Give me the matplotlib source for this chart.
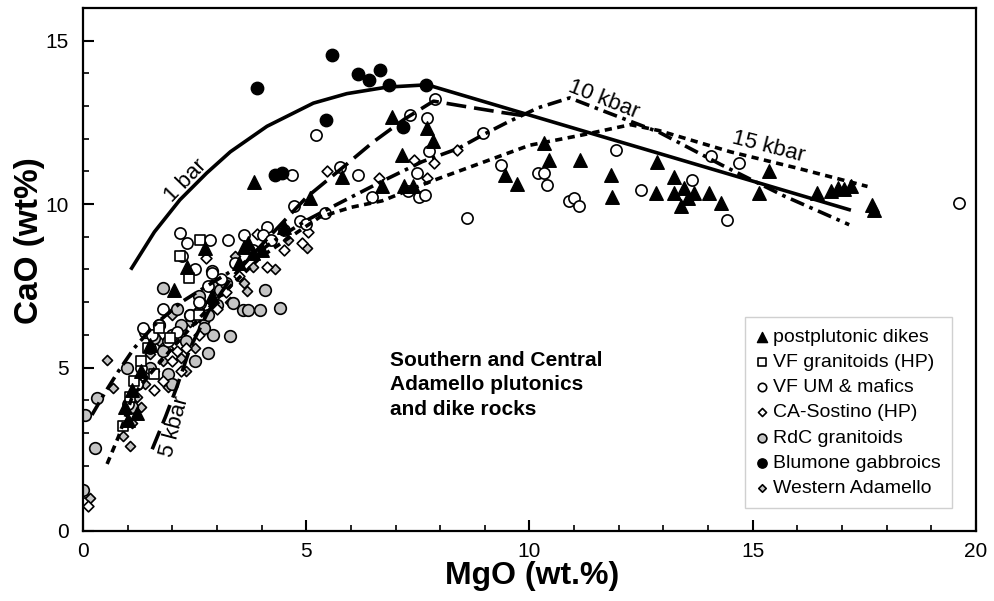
import matplotlib
matplotlib.use('Agg')
import matplotlib.pyplot as plt
from matplotlib.ticker import MultipleLocator

plt.rcParams['font.family'] = ['Liberation Sans', 'DejaVu Sans']

# model curves (MgO, CaO)
bar1_x = [1.09, 1.6, 2.17, 2.77, 3.3, 4.12, 5.16, 5.91, 6.81, 7.71, 17.16]
bar1_y = [8.04, 9.15, 10.13, 10.95, 11.6, 12.38, 13.09, 13.38, 13.58, 13.65, 9.83]
kb5_x = [1.55, 1.85, 2.1, 2.4, 2.8, 3.3, 4.1, 5.0, 5.8, 6.5, 7.2, 7.85, 8.5, 9.4, 9.9]
kb5_y = [2.5, 3.5, 4.4, 5.6, 6.7, 7.7, 8.9, 10.2, 11.1, 11.9, 12.6, 13.15, 13.0, 12.8, 12.7]
kb10_x = [0.2, 0.5, 0.8, 1.15, 1.6, 2.2, 2.9, 3.5, 4.3, 5.0, 5.7, 6.7, 7.6, 8.4, 9.0,
          9.5, 10.2, 10.9, 11.75, 12.9, 14.3, 15.7, 17.16]
kb10_y = [3.55, 4.25, 4.9, 5.6, 6.3, 7.0, 7.6, 8.1, 8.9, 9.5, 10.0, 10.7, 11.3, 11.7, 12.15,
          12.5, 12.95, 13.25, 12.8, 12.2, 11.2, 10.25, 9.37]
kb15_x = [0.54, 0.8, 1.1, 1.5, 2.0, 3.0, 4.0, 5.3, 6.0, 6.7, 7.8, 9.1, 10.0, 11.2, 12.26,
          12.9, 14.5, 16.0, 17.57]
kb15_y = [2.05, 2.9, 4.1, 4.8, 5.6, 7.1, 8.4, 9.6, 9.9, 10.1, 10.7, 11.35, 11.8, 12.12, 12.43,
          12.25, 11.6, 11.1, 10.54]

# samples
dikes_x = [6.92, 7.71, 7.85, 7.14, 3.82, 5.8, 5.09, 6.7, 7.18, 7.4, 9.46, 9.72,
           10.32, 10.43, 11.14, 11.82, 11.85, 12.86, 12.83, 13.24, 13.24, 13.39, 13.68, 14.02,
           14.28, 15.37, 15.14, 16.45, 16.75, 16.9, 17.05, 17.2, 17.68, 17.71, 13.45, 13.55,
           2.74, 2.33, 2.04, 3.8, 3.7, 4.0, 3.5, 4.5, 1.3, 1.1, 1.5, 0.95, 1.0, 2.9, 1.2, 3.6]
dikes_y = [12.68, 12.33, 11.92, 11.51, 10.69, 10.84, 10.19, 10.54, 10.54, 10.54, 10.9, 10.61,
           11.87, 11.36, 11.36, 10.9, 10.23, 11.3, 10.33, 10.84, 10.33, 9.93, 10.33, 10.33,
           10.03, 11.0, 10.33, 10.33, 10.4, 10.5, 10.45, 10.55, 9.98, 9.83, 10.5, 10.2,
           8.66, 8.09, 7.38, 8.5, 8.8, 8.6, 8.2, 9.3, 4.9, 4.3, 5.7, 3.8, 3.4, 7.2, 3.6, 8.7]

vfg_x = [2.17, 2.38, 2.62, 1.45, 1.7, 1.95, 1.15, 1.05, 1.6, 0.9, 2.6, 1.3]
vfg_y = [8.4, 7.73, 8.91, 5.6, 6.2, 5.9, 4.6, 4.1, 4.8, 3.2, 6.6, 5.2]

vfum_x = [7.89, 7.33, 7.71, 7.74, 5.22, 4.68, 6.17, 5.76, 8.97, 9.37, 10.2, 8.6, 7.48, 7.29,
          7.52, 7.67, 6.47, 5.43, 4.72, 2.17, 2.32, 2.85, 2.21, 3.6, 4.12, 4.04, 4.87,
          11.93, 10.32, 10.4, 10.88, 10.99, 11.1, 12.49, 13.65, 14.06, 14.69, 14.43, 19.63,
          1.3, 1.5, 1.7, 1.2, 1.0, 2.1, 2.4, 2.8, 3.1, 3.4, 3.8, 4.2, 1.9, 2.6, 4.5, 5.0,
          1.35, 1.55, 3.25, 2.5, 2.9, 1.8]
vfum_y = [13.21, 12.73, 12.63, 11.61, 12.12, 10.88, 10.9, 11.15, 12.17, 11.2, 10.96, 9.57, 10.95,
          10.39, 10.23, 10.28, 10.23, 9.72, 9.93, 9.12, 8.8, 8.91, 8.4, 9.06, 9.31, 9.06, 9.47,
          11.66, 10.95, 10.59, 10.08, 10.18, 9.94, 10.44, 10.74, 11.48, 11.25, 9.52, 10.03,
          5.0, 5.6, 6.3, 4.5, 3.9, 6.1, 6.6, 7.5, 7.7, 8.2, 8.6, 8.9, 5.8, 7.0, 9.2, 9.4,
          6.2, 6.0, 8.9, 8.0, 7.9, 6.8]

cas_x = [0.12, 2.0, 2.3, 2.6, 2.2, 1.8, 2.5, 2.9, 3.2, 3.5, 2.75, 3.9, 4.5, 1.6, 2.1, 3.0,
         5.46, 7.86, 7.71, 8.38, 6.62, 7.41, 4.9, 5.05, 4.12]
cas_y = [0.75, 5.2, 5.6, 6.0, 4.9, 4.6, 6.5, 7.0, 7.3, 7.8, 8.35, 9.1, 8.6, 4.3, 5.5, 6.8,
         11.0, 11.25, 10.8, 11.66, 10.8, 11.36, 8.8, 9.16, 8.09]

rdc_x = [0.0, 0.04, 0.27, 0.31, 0.98, 1.8, 2.81, 2.92, 3.3, 3.37, 3.59, 3.7, 3.97, 4.08, 4.42,
         2.88, 2.88, 2.62, 3.07, 1.2, 1.5, 1.8, 2.0, 2.2, 2.4, 2.5, 2.7, 2.3, 1.9, 1.6, 1.4,
         1.7, 2.1, 2.6, 3.0, 2.8, 3.2, 2.0, 1.1]
rdc_y = [1.25, 3.55, 2.53, 4.06, 4.98, 7.43, 5.44, 6.0, 5.95, 6.97, 6.76, 6.76, 6.76, 7.38, 6.82,
         7.94, 7.48, 6.97, 7.38, 4.5, 5.0, 5.5, 6.0, 6.3, 6.6, 5.2, 6.2, 5.8, 4.8, 5.9, 6.1,
         6.3, 6.8, 7.2, 6.9, 6.6, 7.6, 4.5, 3.8]

blum_x = [5.58, 3.89, 6.17, 6.40, 6.66, 6.86, 7.69, 5.45, 4.3, 4.46, 7.17]
blum_y = [14.57, 13.55, 13.99, 13.80, 14.09, 13.65, 13.65, 12.56, 10.88, 10.95, 12.37]

wad_x = [0.16, 0.53, 0.68, 1.4, 1.6, 1.8, 1.5, 1.9, 2.1, 2.2, 2.4, 2.0, 1.7, 2.3, 2.6, 1.2,
         1.3, 2.5, 2.7, 3.0, 3.3, 3.6, 3.81, 5.02, 3.67, 4.3, 2.9, 2.2, 1.9, 1.1, 0.9, 4.6,
         3.4, 1.05]
wad_y = [1.0, 5.23, 4.37, 4.5, 4.9, 5.2, 5.4, 5.6, 5.9, 6.2, 6.4, 6.6, 5.8, 4.9, 6.8, 4.1,
         3.8, 5.6, 6.4, 7.4, 7.0, 7.6, 8.09, 8.65, 7.33, 8.0, 6.0, 5.3, 4.4, 3.3, 2.9, 8.9,
         8.4, 2.6]

gray = '#c4c4c4'

fig = plt.figure(figsize=(9.95, 6.01), dpi=100)
ax = fig.add_axes([0.0834, 0.1165, 0.8975, 0.8702])

ax.scatter(wad_x, wad_y, marker='D', s=26, facecolor=gray, edgecolor='black', linewidth=1.2,
           label='Western Adamello', zorder=2)
ax.scatter(rdc_x, rdc_y, marker='o', s=70, facecolor=gray, edgecolor='black', linewidth=1.2,
           label='RdC granitoids', zorder=2)
ax.scatter(cas_x, cas_y, marker='D', s=30, facecolor='white', edgecolor='black', linewidth=1.2,
           label='CA-Sostino (HP)', zorder=2)
ax.scatter(vfum_x, vfum_y, marker='o', s=65, facecolor='white', edgecolor='black', linewidth=1.2,
           label='VF UM & mafics', zorder=2)
ax.scatter(vfg_x, vfg_y, marker='s', s=50, facecolor='white', edgecolor='black', linewidth=1.2,
           label='VF granitoids (HP)', zorder=2)
ax.scatter(blum_x, blum_y, marker='o', s=80, facecolor='black', edgecolor='black',
           label='Blumone gabbroics', zorder=2)
ax.scatter(dikes_x, dikes_y, marker='^', s=95, facecolor='black', edgecolor='black',
           label='postplutonic dikes', zorder=2)

ax.plot(bar1_x, bar1_y, color='black', lw=2.6, zorder=3)
ax.plot(kb5_x, kb5_y, color='black', lw=2.6, dashes=(5.5, 2.2), zorder=3)
ax.plot(kb10_x, kb10_y, color='black', lw=2.6, dashes=(4.0, 1.6, 1.0, 1.6), zorder=3)
ax.plot(kb15_x, kb15_y, color='black', lw=2.6, dashes=(2.0, 1.5), zorder=3)

ax.text(2.29, 10.72, '1 bar', fontsize=16, rotation=46, ha='center', va='center')
ax.text(2.06, 3.18, '5 kbar', fontsize=16, rotation=75, ha='center', va='center')
ax.text(11.66, 13.19, '10 kbar', fontsize=16, rotation=-21.5, ha='center', va='center')
ax.text(15.36, 11.75, '15 kbar', fontsize=16, rotation=-14.5, ha='center', va='center')

ax.text(6.88, 5.5, 'Southern and Central\nAdamello plutonics\nand dike rocks',
        fontsize=15, fontweight='bold', ha='left', va='top', linespacing=1.35)

ax.set_xlim(0, 20)
ax.set_ylim(0, 16)
ax.xaxis.set_major_locator(MultipleLocator(5))
ax.xaxis.set_minor_locator(MultipleLocator(1))
ax.yaxis.set_major_locator(MultipleLocator(5))
ax.yaxis.set_minor_locator(MultipleLocator(1))
ax.tick_params(which='major', direction='in', length=8, width=1.5, labelsize=15, pad=10)
ax.tick_params(which='minor', direction='in', length=4.5, width=1.2)
ax.tick_params(axis='x', which='major', pad=8)
for sp in ax.spines.values():
    sp.set_linewidth(1.6)

ax.set_xlabel('MgO (wt.%)', fontsize=23, fontweight='bold')
ax.set_ylabel('CaO (wt%)', fontsize=24, fontweight='bold')
ax.xaxis.set_label_coords(0.503, -0.058)
ax.yaxis.set_label_coords(-0.043, 0.556)

order = ['postplutonic dikes', 'VF granitoids (HP)', 'VF UM & mafics', 'CA-Sostino (HP)',
         'RdC granitoids', 'Blumone gabbroics', 'Western Adamello']
handles, labels = ax.get_legend_handles_labels()
hmap = dict(zip(labels, handles))
leg = ax.legend([hmap[k] for k in order], order, loc='lower right',
                bbox_to_anchor=(0.973, 0.044), fontsize=14, markerscale=0.75,
                labelspacing=0.39, borderpad=0.56, handlelength=0.6, handletextpad=0.3,
                fancybox=False, framealpha=1, borderaxespad=0)
leg.get_frame().set_edgecolor('#d0d0d0')
leg.get_frame().set_linewidth(1.0)

fig.savefig('out.png', dpi=100)
